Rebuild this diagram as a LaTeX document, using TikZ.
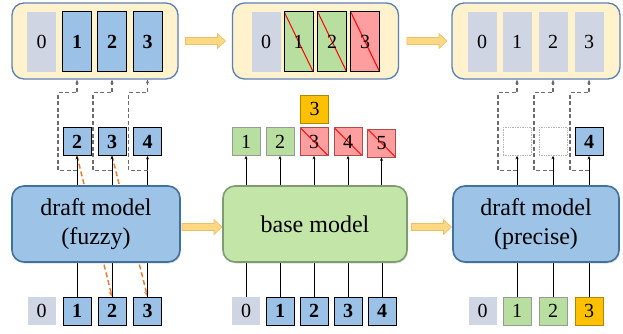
\documentclass[tikz,border=0pt]{standalone}
\usepackage{fontspec}
\setmainfont{Liberation Serif}
\usetikzlibrary{arrows.meta,shadows,calc}

\definecolor{seqfill}{HTML}{FFF2CC}
\definecolor{seqline}{HTML}{5B80B4}
\definecolor{tokblue}{HTML}{9BC2E6}
\definecolor{tokgray}{HTML}{D0D5E3}
\definecolor{tokgreen}{HTML}{B9DFA0}
\definecolor{tokred}{HTML}{FF9E9E}
\definecolor{tokorange}{HTML}{FFC000}
\definecolor{crossred}{HTML}{FF0000}
\definecolor{modelblue}{HTML}{9DC3E6}
\definecolor{modelbline}{HTML}{41719C}
\definecolor{modelgreen}{HTML}{C3E6A8}
\definecolor{modelgline}{HTML}{7F9C70}
\definecolor{arrowfill}{HTML}{FFD883}
\definecolor{arrowline}{HTML}{E9BF6A}
\definecolor{feedorange}{HTML}{ED7D31}

\newcommand{\digfont}{\rmfamily\fontsize{20}{20}\selectfont}
\newcommand{\modelfont}{\rmfamily\fontsize{24}{29}\selectfont}

\tikzset{
  seqbox/.style={draw=seqline, fill=seqfill, line width=1.3pt, rounded corners=12pt,
    minimum height=76pt, inner sep=0pt},
  cell/.style={minimum width=29pt, minimum height=60pt, inner sep=0pt},
  tok/.style={minimum width=28pt, minimum height=28pt, inner sep=0pt},
  gry/.style={fill=tokgray},
  blu/.style={fill=tokblue, draw=black, line width=0.9pt, font=\digfont\bfseries},
  grn/.style={fill=tokgreen, draw=black, line width=0.9pt},
  redcell/.style={fill=tokred, draw=black, line width=0.9pt},
  softgrn/.style={fill=tokgreen, draw=gray!80, line width=0.8pt},
  softred/.style={fill=tokred, draw=crossred!40!gray, line width=0.8pt},
  org/.style={fill=tokorange, draw=tokorange!70!black, line width=0.6pt},
  hollow/.style={fill=white, draw=gray!60, densely dotted, line width=0.7pt},
  crossed/.style={path picture={
      \draw[draw=crossred, line width=1pt] (path picture bounding box.north west)
        -- (path picture bounding box.south east);}},
  model/.style={rounded corners=12pt, line width=1.6pt, minimum height=76pt,
    align=center, font=\modelfont, inner sep=0pt,
    drop shadow={opacity=0.25, shadow xshift=1pt, shadow yshift=-1.5pt}},
  blockarrow/.pic={
    \draw[fill=arrowfill, draw=arrowline, line width=0.6pt]
      (-20,-3.5) -- (12,-3.5) -- (12,-7.5) -- (20,0) -- (12,7.5) -- (12,3.5) -- (-20,3.5) -- cycle;},
  outarrow/.style={line width=0.8pt, -{Stealth[length=3.5pt, width=3pt]}},
  bypass/.style={draw=gray!85!black, dash pattern=on 4pt off 2.5pt, line width=1.2pt,
    -{Stealth[length=4pt, width=3.5pt]}},
  feed/.style={draw=feedorange, dash pattern=on 5pt off 3pt, line width=1.5pt,
    -{Stealth[length=5pt, width=4.5pt]}}
}

\begin{document}
\begin{tikzpicture}[x=1pt, y=-1pt, font=\digfont]
    \useasboundingbox (0,0) rectangle (623,333);

    % Token sequences at the top
    \node[seqbox, minimum width=166pt] (seqA) at (95,41) {};
    \node[seqbox, minimum width=166pt] (seqB) at (315.5,41) {};
    \node[seqbox, minimum width=168pt] (seqC) at (536,41) {};

    \node[cell, gry] (a0) at (41.5,41.5) {0};
    \node[cell, blu] (a1) at (77,41.5) {1};
    \node[cell, blu] (a2) at (112,41.5) {2};
    \node[cell, blu] (a3) at (147.5,41.5) {3};

    \node[cell, gry] (b0) at (266,41.5) {0};
    \node[cell, grn, crossed] (b1) at (298.5,41.5) {1};
    \node[cell, grn, crossed] (b2) at (332,41.5) {2};
    \node[cell, redcell, crossed] (b3) at (365,41.5) {3};

    \node[cell, gry] (c0) at (482,41.5) {0};
    \node[cell, gry] (c1) at (517,41.5) {1};
    \node[cell, gry] (c2) at (553,41.5) {2};
    \node[cell, gry] (c3) at (589,41.5) {3};

    % Stage arrows
    \pic at (205.5,41) {blockarrow};
    \pic at (427,41) {blockarrow};
    \pic at (202,227) {blockarrow};
    \pic at (431.5,227) {blockarrow};

    % Outputs of the models
    \node[tok, blu] (f2) at (77,141.5) {2};
    \node[tok, blu] (f3) at (112,141.5) {3};
    \node[tok, blu] (f4) at (147.5,141.5) {4};

    \node[tok, org] (fix) at (314.5,109) {3};
    \node[tok, softgrn] (o1) at (246,141.5) {1};
    \node[tok, softgrn] (o2) at (280,141.5) {2};
    \node[tok, softred, crossed] (o3) at (314,141.5) {3};
    \node[tok, softred, crossed] (o4) at (348,141.5) {4};
    \node[tok, softred, crossed] (o5) at (381.5,143) {5};

    \node[tok, hollow] (p1) at (517,141.5) {};
    \node[tok, hollow] (p2) at (553,141.5) {};
    \node[tok, blu] (p4) at (589,141.5) {4};

    % Inputs at the bottom
    \node[tok, gry] (i0) at (41.5,311) {0};
    \node[tok, blu] (i1) at (77,311) {1};
    \node[tok, blu] (i2) at (112,311) {2};
    \node[tok, blu] (i3) at (147.5,311) {3};

    \node[tok, gry] (k0) at (246,311) {0};
    \node[tok, blu] (k1) at (280,311) {1};
    \node[tok, blu] (k2) at (314,311) {2};
    \node[tok, blu] (k3) at (348,311) {3};
    \node[tok, blu] (k4) at (382,311) {4};

    \node[tok, gry] (j0) at (482.5,311) {0};
    \node[tok, softgrn] (j1) at (517,311) {1};
    \node[tok, softgrn] (j2) at (553,311) {2};
    \node[tok, org] (j3) at (589,311) {3};

    % Fed-back tokens (behind the fuzzy draft model)
    \draw[feed] (f2.south) -- (i2.north);
    \draw[feed] (f3.south) -- (i3.north);

    % Models
    \node[model, fill=modelblue, draw=modelbline, minimum width=168pt] (fuzzy) at (96,224)
      {draft model\\(fuzzy)};
    \node[model, fill=modelgreen, draw=modelgline, minimum width=184pt] (base) at (315,224)
      {base model};
    \node[model, fill=modelblue, draw=modelbline, minimum width=166pt] (precise) at (536,224)
      {draft model\\(precise)};

    % Inputs into the models
    \draw[line width=0.8pt] (i1.north) -- (i1.north |- fuzzy.south);
    \draw[line width=0.8pt] (i2.north) -- (i2.north |- fuzzy.south);
    \draw[line width=0.8pt] (i3.north) -- (i3.north |- fuzzy.south);
    \draw[line width=0.8pt] (k0.north) -- (k0.north |- base.south);
    \draw[line width=0.8pt] (k1.north) -- (k1.north |- base.south);
    \draw[line width=0.8pt] (k2.north) -- (k2.north |- base.south);
    \draw[line width=0.8pt] (k3.north) -- (k3.north |- base.south);
    \draw[line width=0.8pt] (k4.north) -- (k4.north |- base.south);
    \draw[line width=0.8pt] (j1.north) -- (j1.north |- precise.south);
    \draw[line width=0.8pt] (j2.north) -- (j2.north |- precise.south);
    \draw[line width=0.8pt] (j3.north) -- (j3.north |- precise.south);

    % Model outputs
    \draw[outarrow] (f2.south |- fuzzy.north) -- (f2.south);
    \draw[outarrow] (f3.south |- fuzzy.north) -- (f3.south);
    \draw[outarrow] (f4.south |- fuzzy.north) -- (f4.south);
    \draw[outarrow] (o1.south |- base.north) -- (o1.south);
    \draw[outarrow] (o2.south |- base.north) -- (o2.south);
    \draw[outarrow] (o3.south |- base.north) -- (o3.south);
    \draw[outarrow] (o4.south |- base.north) -- (o4.south);
    \draw[outarrow] (o5.south |- base.north) -- (o5.south);
    \draw[outarrow] (p1.south |- precise.north) -- (p1.south);
    \draw[outarrow] (p2.south |- precise.north) -- (p2.south);
    \draw[outarrow] (p4.south |- precise.north) -- (p4.south);

    % Hidden states going round the token boxes
    \draw[bypass] ($(f2.south)!.5!(f2.south |- fuzzy.north)$) -- ++(-19,0) -- ++(0,-78) -- ++(19,0) -- (a1.south |- seqA.south);
    \draw[bypass] ($(f3.south)!.5!(f3.south |- fuzzy.north)$) -- ++(-19,0) -- ++(0,-78) -- ++(19,0) -- (a2.south |- seqA.south);
    \draw[bypass] ($(f4.south)!.5!(f4.south |- fuzzy.north)$) -- ++(-19,0) -- ++(0,-78) -- ++(19,0) -- (a3.south |- seqA.south);
    \draw[bypass] ($(p1.south)!.5!(p1.south |- precise.north)$) -- ++(-19,0) -- ++(0,-78) -- ++(19,0) -- (c1.south |- seqC.south);
    \draw[bypass] ($(p2.south)!.5!(p2.south |- precise.north)$) -- ++(-19,0) -- ++(0,-78) -- ++(19,0) -- (c2.south |- seqC.south);
    \draw[bypass] ($(p4.south)!.5!(p4.south |- precise.north)$) -- ++(-19,0) -- ++(0,-78) -- ++(19,0) -- (c3.south |- seqC.south);

\end{tikzpicture}
\end{document}
